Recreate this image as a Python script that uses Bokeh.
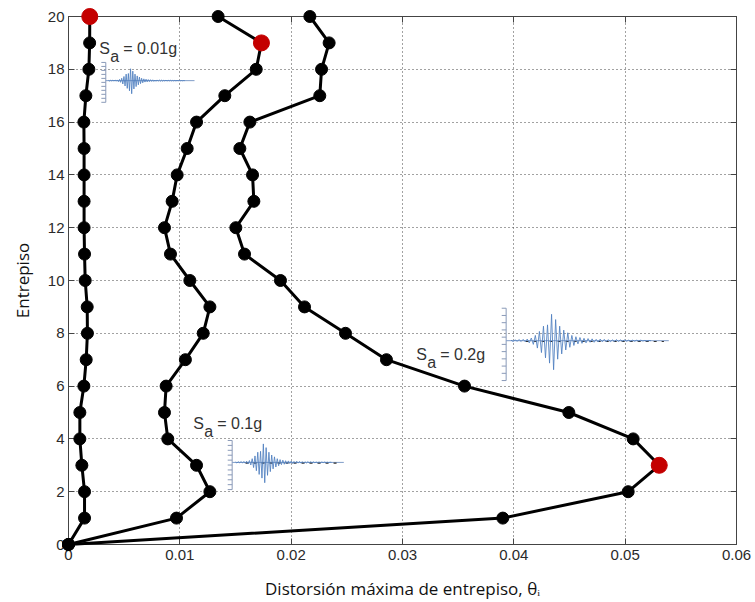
from bokeh.plotting import figure
from bokeh.models import Range1d, LinearAxis, Label, FixedTicker, ColumnDataSource, CustomLabelingPolicy
from bokeh.embed import file_html
from bokeh.resources import INLINE

# ---- data ----
stories = list(range(0, 21))
drift_001g = [0.0, 0.00144, 0.00144, 0.0012, 0.00102, 0.00102, 0.00138, 0.00159, 0.0017, 0.00168,
              0.0015, 0.00144, 0.0014, 0.0014, 0.0014, 0.0014, 0.00138, 0.00156, 0.00183, 0.0019, 0.00191]
drift_01g = [0.0, 0.0097, 0.0127, 0.0115, 0.00892, 0.00862, 0.00877, 0.0105, 0.0121, 0.0127,
             0.0109, 0.00916, 0.00862, 0.00931, 0.00976, 0.01066, 0.0115, 0.01404, 0.01686, 0.01733, 0.01344]
drift_02g = [0.0, 0.03901, 0.05027, 0.05306, 0.05072, 0.04494, 0.03557, 0.02856, 0.02488, 0.0212,
             0.01904, 0.01581, 0.01503, 0.01665, 0.01653, 0.01539, 0.01629, 0.02257, 0.02273, 0.02341, 0.02168]
series = [drift_001g, drift_01g, drift_02g]
labels = ["0.01g", "0.1g", "0.2g"]
x_ticks = [0, 0.01, 0.02, 0.03, 0.04, 0.05, 0.06]
y_ticks = [0, 2, 4, 6, 8, 10, 12, 14, 16, 18, 20]

# accelerogram sketch (normalised amplitudes, estimated from the inset pictures)
wave = [0.02, -0.03, 0.03, -0.02, 0.04, -0.03, 0.05, -0.04, 0.06, -0.08, 0.10, -0.14,
        0.20, -0.28, 0.35, -0.45, 0.55, -0.65, 0.60, -0.85, 1.00, -1.10, 0.80, -0.70,
        0.55, -0.50, 0.40, -0.35, 0.30, -0.25, 0.20, -0.18, 0.15, -0.12, 0.12, -0.10,
        0.09, -0.08, 0.08, -0.06, 0.07, -0.06, 0.05, -0.05, 0.06, -0.04, 0.05, -0.04,
        0.04, -0.04, 0.03, -0.03, 0.04, -0.03, 0.03, -0.02, 0.03, -0.02, 0.02, -0.02,
        0.02, -0.02, 0.02, -0.01, 0.02, -0.01, 0.01, -0.01, 0.01, 0.0]

# ---- figure ----
p = figure(width=755, height=602, output_backend="svg", toolbar_location=None,
           x_range=Range1d(0, 0.06), y_range=Range1d(0, 20),
           min_border_left=68, min_border_right=19, min_border_top=16, min_border_bottom=57)
p.background_fill_color = "white"
p.border_fill_color = "white"
p.outline_line_color = "#444444"
p.outline_line_width = 1

for ax in (p.xaxis[0], p.yaxis[0]):
    ax.major_tick_in = 6
    ax.major_tick_out = 0
    ax.minor_tick_in = 0
    ax.minor_tick_out = 0
    ax.axis_line_color = "#444444"
    ax.major_tick_line_color = "#444444"
    ax.major_label_text_font = "Liberation Sans"
    ax.major_label_text_font_size = "15px"
    ax.major_label_text_color = "#2a2a2a"
    ax.axis_label_text_font = "Open Sans"
    ax.axis_label_text_font_size = "17px"
    ax.axis_label_text_font_style = "normal"
    ax.axis_label_text_color = "#111111"

p.xaxis.ticker = FixedTicker(ticks=x_ticks)
p.yaxis.ticker = FixedTicker(ticks=y_ticks)
p.xaxis.major_label_overrides = {0: "0", 0.01: "0.01", 0.02: "0.02", 0.03: "0.03",
                                 0.04: "0.04", 0.05: "0.05", 0.06: "0.06"}
p.xaxis.axis_label = "Distorsión máxima de entrepiso, θᵢ"
p.yaxis.axis_label = "Entrepiso"
p.xaxis.major_label_standoff = 5
p.yaxis.major_label_standoff = 4
p.xaxis.axis_label_standoff = 14
p.yaxis.axis_label_standoff = 11

# mirrored ticks (top / right), without labels
for loc in ("above", "right"):
    ax = LinearAxis(ticker=FixedTicker(ticks=x_ticks if loc == "above" else y_ticks))
    ax.major_tick_in = 6
    ax.major_tick_out = 0
    ax.minor_tick_in = 0
    ax.minor_tick_out = 0
    ax.axis_line_color = "#444444"
    ax.major_tick_line_color = "#444444"
    ax.major_label_policy = CustomLabelingPolicy(code="return []")
    ax.major_label_text_font_size = "1px"
    ax.major_label_standoff = 0
    p.add_layout(ax, loc)

p.xgrid.ticker = FixedTicker(ticks=x_ticks)
p.ygrid.ticker = FixedTicker(ticks=y_ticks)
for g in (p.xgrid[0], p.ygrid[0]):
    g.grid_line_color = "#444444"
    g.grid_line_dash = "1 3"
    g.grid_line_width = 1

# ---- inset accelerograms ----
insets = [
    dict(x0=0.00335, x1=0.01132, yb=17.57, ylo=16.75, yhi=18.26, amp=0.45, dash=False),
    dict(x0=0.0147, x1=0.02473, yb=3.11, ylo=2.08, yhi=3.94, amp=0.70, dash=True),
    dict(x0=0.03931, x1=0.05392, yb=7.72, ylo=6.21, yhi=8.95, amp=1.00, dash=True),
]
for ins in insets:
    w = ins["x1"] - ins["x0"]
    n = len(wave)
    xs = [ins["x0"] + w * (0.03 + 0.86 * i / (n - 1)) for i in range(n)]
    ys = [ins["yb"] + ins["amp"] * a for a in wave]
    p.segment(x0=[ins["x0"]], y0=[ins["ylo"]], x1=[ins["x0"]], y1=[ins["yhi"]],
              line_color="#8a9ab8", line_width=1)
    nt = 11
    ty = [ins["ylo"] + (ins["yhi"] - ins["ylo"]) * k / (nt - 1) for k in range(nt)]
    p.segment(x0=[ins["x0"] - 0.0004] * nt, y0=ty, x1=[ins["x0"]] * nt, y1=ty,
              line_color="#8a9ab8", line_width=1)
    p.line([ins["x0"], ins["x1"]], [ins["yb"], ins["yb"]], line_color="#7f9cc8", line_width=1)
    if ins["dash"]:
        p.line([ins["x0"] + 0.12 * w, ins["x1"] - 0.03 * w], [ins["yb"] - 0.03, ins["yb"] - 0.03],
               line_color="#333333", line_width=1.2, line_dash="3 5")
    p.line(xs, ys, line_color="#4f7fc0", line_width=1, line_alpha=0.85)

# ---- profiles ----
for d in series:
    src = ColumnDataSource(dict(x=d, y=stories))
    p.line("x", "y", source=src, line_color="black", line_width=3, level="overlay")
    p.scatter("x", "y", source=src, size=12, fill_color="black", line_color="black", level="overlay")
    k = max(range(len(d)), key=lambda i: d[i])
    p.scatter([d[k]], [stories[k]], size=16, fill_color="#c40000", line_color="#c40000",
              level="overlay")

# ---- S_a labels ----
label_pos = [(0.00276, 18.79), (0.0112, 4.575), (0.03123, 7.18)]
for (lx, ly), txt in zip(label_pos, labels):
    common = dict(x=lx, y=ly, text_font="Liberation Sans", text_font_size="16px",
                  text_color="#333333", text_baseline="alphabetic")
    p.add_layout(Label(text="S", **common))
    p.add_layout(Label(text="a", x_offset=11, y_offset=-8, **common))
    p.add_layout(Label(text="= " + txt, x_offset=24, **common))

open("out.html", "w").write(file_html(p, INLINE))
